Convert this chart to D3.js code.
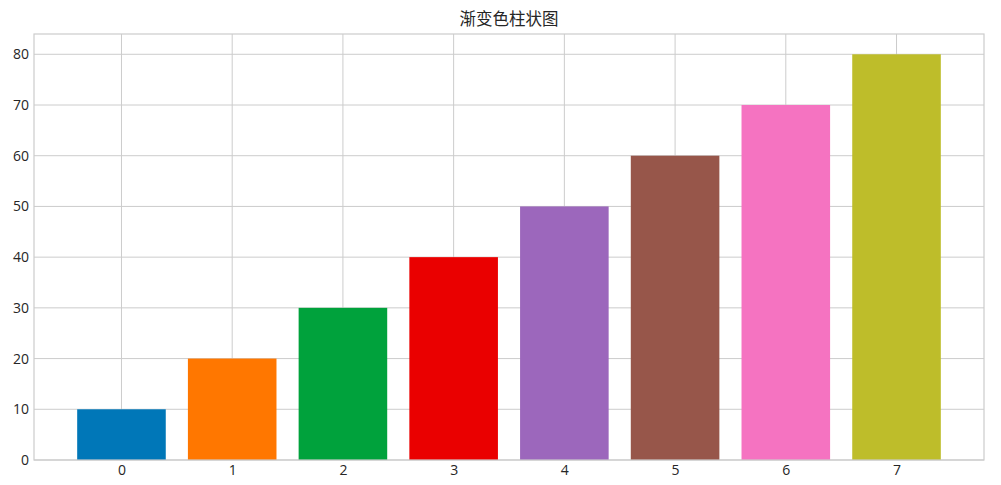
<!DOCTYPE html>
<html lang="zh">
<head>
<meta charset="UTF-8">
<title>渐变色柱状图</title>
<script src="https://cdn.jsdelivr.net/npm/d3@7"></script>
<style>
  body { margin: 0; background: #fff; }
  .tick text { font-family: "Open Sans", "Noto Sans", sans-serif; font-size: 14px; fill: #262626; }
</style>
</head>
<body>
<div class="chart"></div>
<script>
  const categories = [0, 1, 2, 3, 4, 5, 6, 7];
  const values = [10, 20, 30, 40, 50, 60, 70, 80];
  const barColors = ['#0077b8', '#ff7700', '#00a23c', '#ea0000', '#9c67bc', '#97564a', '#f573c1', '#bebd2a'];
  const yTicks = [0, 10, 20, 30, 40, 50, 60, 70, 80];

  const box = {w: 1001, h: 485};
  const margin = {top: 34, right: 17, bottom: 25, left: 34};
  const [width, height] = [box.w - margin.left - margin.right, box.h - margin.top - margin.bottom];

  const root = d3.select('.chart').append('svg')
    .attr('width', box.w).attr('height', box.h);
  const svg = root.append('g').attr('transform', `translate(${margin.left} ${margin.top})`);

  // matplotlib-like 5% margins around the data
  const xScale = d3.scaleLinear().domain([-0.79, 7.79]).range([0, width]);
  const yScale = d3.scaleLinear().domain([0, 84]).range([height, 0]);
  const barW = 0.8;

  // grid
  svg.append('g').selectAll('line.v').data(categories).join('line')
    .attr('x1', d => xScale(d)).attr('x2', d => xScale(d))
    .attr('y1', 0).attr('y2', height)
    .attr('stroke', '#cccccc').attr('stroke-width', 1);
  svg.append('g').selectAll('line.h').data(yTicks).join('line')
    .attr('x1', 0).attr('x2', width)
    .attr('y1', d => yScale(d)).attr('y2', d => yScale(d))
    .attr('stroke', '#cccccc').attr('stroke-width', 1);

  // bars
  svg.append('g').selectAll('rect').data(categories).join('rect')
    .attr('x', d => xScale(d - barW / 2))
    .attr('width', xScale(barW) - xScale(0))
    .attr('y', (d, i) => yScale(values[i]))
    .attr('height', (d, i) => yScale(0) - yScale(values[i]))
    .attr('fill', (d, i) => barColors[i]);

  // frame
  svg.append('rect').attr('width', width).attr('height', height)
    .attr('fill', 'none').attr('stroke', '#cccccc').attr('stroke-width', 1.2);

  const xAxis = d3.axisBottom(xScale).tickValues(categories).tickFormat(d3.format('d')).tickSize(0).tickPadding(5);
  const yAxis = d3.axisLeft(yScale).tickValues(yTicks).tickSize(0).tickPadding(5);
  svg.append('g').attr('transform', `translate(0 ${height})`).call(xAxis).call(g => g.select('.domain').remove());
  svg.append('g').call(yAxis).call(g => g.select('.domain').remove());

  root.append('text')
    .attr('x', margin.left + width / 2).attr('y', 25)
    .attr('text-anchor', 'middle')
    .style('font-family', '"Noto Sans CJK SC", sans-serif')
    .style('font-size', '16.5px').style('fill', '#262626')
    .text('渐变色柱状图');
</script>
</body>
</html>
